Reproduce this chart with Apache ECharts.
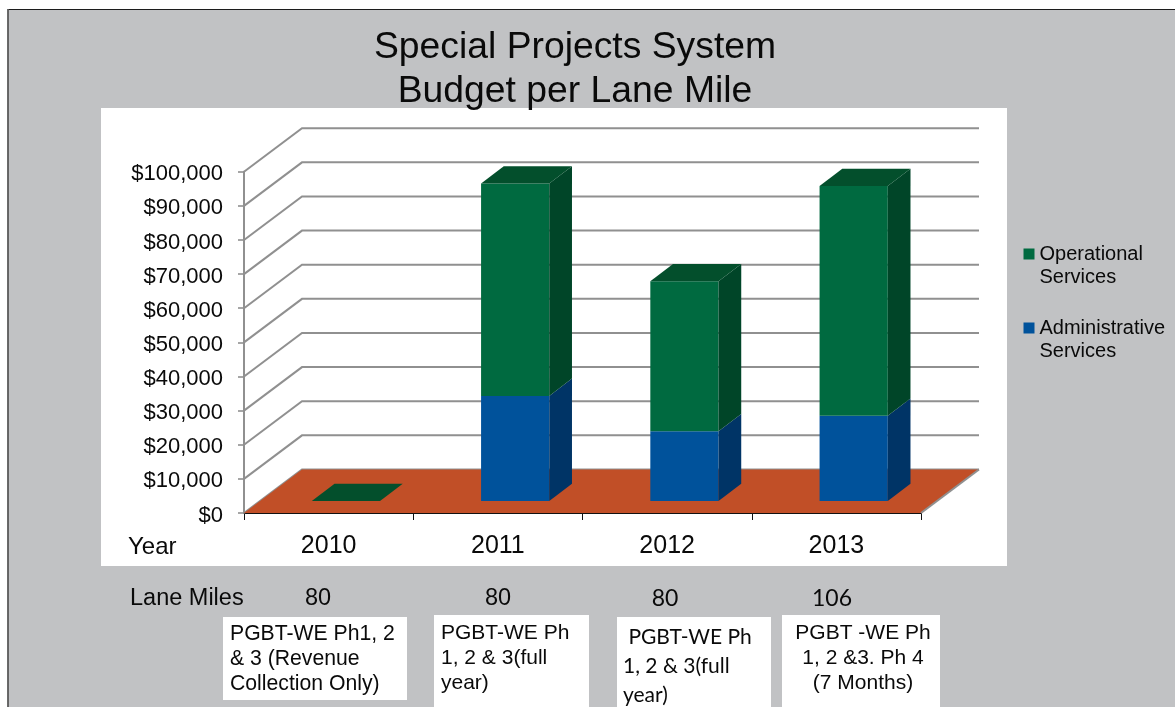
<!DOCTYPE html>
<html>
<head>
<meta charset="utf-8">
<title>Special Projects System</title>
<style>html,body{margin:0;padding:0;background:#fff}#chart{width:1175px;height:707px}</style>
<script src="https://cdn.jsdelivr.net/npm/echarts@6/dist/echarts.min.js"></script>
</head>
<body>
<div id="chart"></div>
<script>
// Budget per lane mile, by year and service type
const years = ['2010', '2011', '2012', '2013'];
const administrativeServices = [0, 30800, 20400, 25000];
const operationalServices = [0, 62200, 44000, 67300];
const valueTicks = [0, 10000, 20000, 30000, 40000, 50000, 60000, 70000, 80000, 90000, 100000];
const laneMiles = ['80', '80', '80', '106'];
const segmentNotes = [
  'PGBT-WE Ph1, 2\n& 3 (Revenue\nCollection Only)',
  'PGBT-WE Ph\n1, 2 & 3(full\nyear)',
  ' PGBT-WE Ph\n1, 2 & 3(full\nyear)',
  'PGBT -WE Ph\n1, 2 &3. Ph 4\n(7 Months)'
];

const SANS = '"Liberation Sans", Arial, sans-serif';
const HUMANIST = 'Lato, "Noto Sans", sans-serif';
const INK = '#0A0A0A';

// Oblique projection: how far the back wall sits from the front plane
const WALL_DX = 58, WALL_DY = 43.5;
// Where each column sits on the floor and how deep it is
const BAR_DX = 17.3, BAR_DY = 12, BAR_DEPTH_X = 22.7, BAR_DEPTH_Y = 17.3, BAR_WIDTH = 0.403;

const GRID_COLOR = '#909090';

function polygon(points, fill) {
  return { type: 'polygon', shape: { points }, style: { fill }, silent: true };
}

// Slanted side-wall line plus the horizontal back-wall line for one tick
function renderWallLine(params, api) {
  const cs = params.coordSys;
  const y = api.coord([0, api.value(0)])[1];
  const xBack = cs.x + WALL_DX;
  const yBack = y - WALL_DY;
  return {
    type: 'polyline',
    shape: { points: [[cs.x, y], [xBack, yBack], [cs.x + cs.width + WALL_DX, yBack]] },
    style: { fill: 'none', stroke: GRID_COLOR, lineWidth: 2 },
    silent: true
  };
}

function renderFloor(params, api) {
  const cs = params.coordSys;
  const y = api.coord([0, 0])[1];
  const l = cs.x, r = cs.x + cs.width;
  return {
    type: 'group',
    children: [
      polygon([[l, y], [r, y], [r + WALL_DX, y - WALL_DY], [l + WALL_DX, y - WALL_DY]], '#C14F27'),
      {
        type: 'polyline',
        shape: { points: [[r, y], [r + WALL_DX, y - WALL_DY]] },
        style: { fill: 'none', stroke: GRID_COLOR, lineWidth: 2 },
        silent: true
      }
    ]
  };
}

// One stacked segment of a column: front face, side face, and the cap on the upper stack
function columnRenderer(front, side, cap) {
  return function (params, api) {
    const c = api.value(0);
    const low = api.coord([c, api.value(1)]);
    const high = api.coord([c, api.value(2)]);
    const w = api.size([1, 0])[0] * BAR_WIDTH;
    const x0 = low[0] + BAR_DX - w / 2, x1 = x0 + w;
    const yb = low[1] - BAR_DY, yt = high[1] - BAR_DY;
    const children = [];
    if (yb - yt > 0.01) {
      children.push(polygon([[x0, yb], [x1, yb], [x1, yt], [x0, yt]], front));
      children.push(polygon([[x1, yb], [x1 + BAR_DEPTH_X, yb - BAR_DEPTH_Y], [x1 + BAR_DEPTH_X, yt - BAR_DEPTH_Y], [x1, yt]], side));
    }
    if (cap) {
      children.push(polygon([[x0, yt], [x1, yt], [x1 + BAR_DEPTH_X, yt - BAR_DEPTH_Y], [x0 + BAR_DEPTH_X, yt - BAR_DEPTH_Y]], cap));
    }
    return { type: 'group', children };
  };
}

const adminRows = years.map((_, i) => [i, 0, administrativeServices[i]]);
const opsRows = years.map((_, i) => [i, administrativeServices[i], administrativeServices[i] + operationalServices[i]]);

const laneMileX = [318, 498, 665, 832];
const laneMileY = [599, 599, 598.5, 598.5];
const laneMileFont = [SANS, SANS, HUMANIST, HUMANIST];
const laneMileSize = [23.5, 23.5, 23, 23];

const noteBoxes = [
  { x: 223, y: 617, w: 184, h: 83, tx: 230, ty: 622, lh: 25, size: 21.2, font: SANS, align: 'left' },
  { x: 434, y: 615, w: 155, h: 92, tx: 441, ty: 621, lh: 25, size: 21, font: SANS, align: 'left' },
  { x: 617, y: 617, w: 154, h: 90, tx: 623, ty: 623, lh: 29, size: 21, font: HUMANIST, align: 'left' },
  { x: 782, y: 615, w: 158, h: 92, tx: 863, ty: 621, lh: 25, size: 21, font: SANS, align: 'center' }
];

const graphics = [
  // Slide background with its dark top and left frame
  { type: 'rect', z: -3, shape: { x: 8, y: 9, width: 1167, height: 698 }, style: { fill: '#C1C2C4' } },
  { type: 'line', z: -2, shape: { x1: 8, y1: 9.5, x2: 1175, y2: 9.5 }, style: { stroke: '#1c1c1c', lineWidth: 1.2 } },
  { type: 'line', z: -2, shape: { x1: 8, y1: 9, x2: 8, y2: 707 }, style: { stroke: '#5a5a5a', lineWidth: 1.8 } },
  // White plot panel
  { type: 'rect', z: -1, shape: { x: 101, y: 108, width: 906, height: 458 }, style: { fill: '#FFFFFF' } },
  { type: 'text', z: 5, style: { x: 128, y: 547, text: 'Year', font: '24px ' + SANS, fill: INK, verticalAlign: 'middle' } },
  { type: 'text', z: 5, style: { x: 130, y: 599, text: 'Lane Miles', font: '23.5px ' + SANS, fill: INK, verticalAlign: 'middle' } }
];
laneMiles.forEach((v, i) => {
  graphics.push({
    type: 'text', z: 5,
    style: { x: laneMileX[i], y: laneMileY[i], text: v, font: laneMileSize[i] + 'px ' + laneMileFont[i], fill: INK, align: 'center', verticalAlign: 'middle' }
  });
});
segmentNotes.forEach((note, i) => {
  const b = noteBoxes[i];
  graphics.push({ type: 'rect', z: 4, shape: { x: b.x, y: b.y, width: b.w, height: b.h }, style: { fill: '#FFFFFF' } });
  graphics.push({
    type: 'text', z: 5,
    style: { x: b.tx, y: b.ty, text: note, font: b.size + 'px ' + b.font, lineHeight: b.lh, fill: INK, align: b.align, verticalAlign: 'top' }
  });
});

const chart = echarts.init(document.getElementById('chart'), null, { renderer: 'canvas' });
chart.setOption({
  animation: false,
  backgroundColor: '#FFFFFF',
  textStyle: { fontFamily: SANS },
  title: {
    text: 'Special Projects System\nBudget per Lane Mile',
    left: 570, top: 21, textAlign: 'center',
    textStyle: { fontFamily: SANS, fontSize: 37.3, fontWeight: 'normal', color: INK, lineHeight: 44 }
  },
  legend: {
    orient: 'vertical', left: 1023.5, top: 219.5, padding: 0,
    itemWidth: 11, itemHeight: 11, itemGap: 5, icon: 'rect',
    data: ['Operational Services', 'Administrative Services'],
    // The blank first line keeps the swatch level with the first word
    formatter: name => '\n' + name.replace(' ', '\n'),
    textStyle: { fontFamily: SANS, fontSize: 20, color: INK, lineHeight: 23 }
  },
  grid: { left: 244, top: 171.7, width: 677, height: 341.3, containLabel: false },
  xAxis: {
    type: 'category', data: years, boundaryGap: true,
    axisLine: { lineStyle: { color: '#111', width: 1 } },
    axisTick: { show: true, length: 7, lineStyle: { color: '#111', width: 1 } },
    axisLabel: { color: INK, fontFamily: SANS, fontSize: 25, margin: 21 }
  },
  yAxis: {
    type: 'value', min: 0, max: 100000, interval: 10000,
    splitLine: { show: false },
    axisLine: { show: true, lineStyle: { color: GRID_COLOR, width: 2 } },
    axisTick: { show: true, length: 6, lineStyle: { color: GRID_COLOR, width: 1.6 } },
    axisLabel: {
      color: INK, fontFamily: SANS, fontSize: 22, margin: 21,
      formatter: v => '{v|$' + v.toLocaleString('en-US') + '}',
      rich: { v: { color: INK, fontFamily: SANS, fontSize: 22, padding: [5, 0, 0, 0] } }
    }
  },
  series: [
    { name: 'Walls', type: 'custom', z: 1, clip: false, coordinateSystem: 'cartesian2d', renderItem: renderWallLine, data: valueTicks.map(v => [v]), encode: { y: 0 }, silent: true },
    { name: 'Floor', type: 'custom', z: 2, clip: false, coordinateSystem: 'cartesian2d', renderItem: renderFloor, data: [[0]], encode: { y: 0 }, silent: true },
    { name: 'Administrative Services', type: 'custom', z: 3, clip: false, coordinateSystem: 'cartesian2d', itemStyle: { color: '#00529B' }, renderItem: columnRenderer('#00529B', '#003466', null), data: adminRows, encode: { x: 0, y: [1, 2] } },
    { name: 'Operational Services', type: 'custom', z: 4, clip: false, coordinateSystem: 'cartesian2d', itemStyle: { color: '#006A40' }, renderItem: columnRenderer('#006A40', '#004528', '#034F2C'), data: opsRows, encode: { x: 0, y: [1, 2] } }
  ],
  graphic: { elements: graphics }
});
</script>
</body>
</html>
